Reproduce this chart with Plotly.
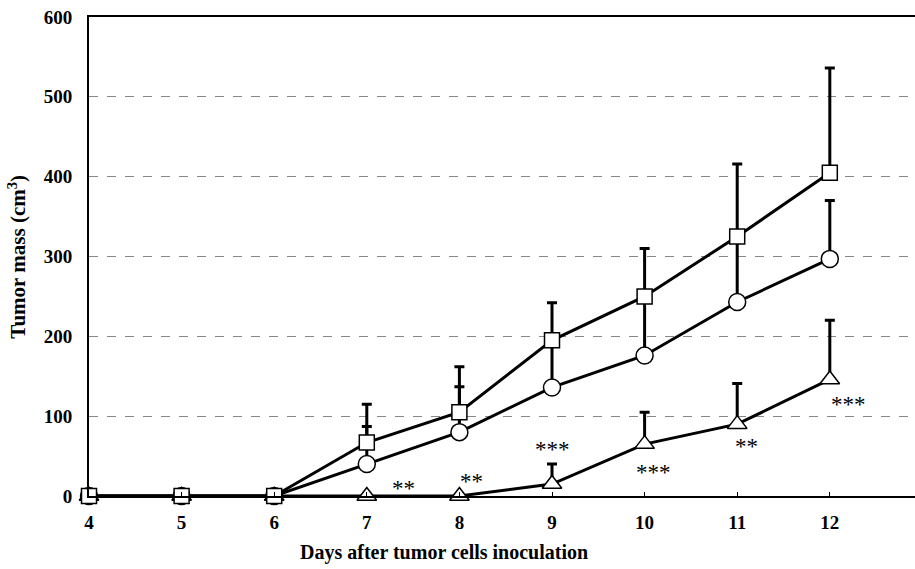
import plotly.graph_objects as go

days = [4, 5, 6, 7, 8, 9, 10, 11, 12]
square_vals = [0, 0, 0, 67, 105, 195, 250, 325, 405]
square_err = [0, 0, 0, 48, 57, 47, 60, 91, 131]
circle_vals = [0, 0, 0, 40, 80, 136, 176, 243, 297]
circle_err = [0, 0, 0, 47, 57, 55, 68, 78, 73]
triangle_vals = [0, 0, 0, 0, 0, 15, 65, 90, 146]
triangle_err = [0, 0, 0, 0, 0, 25, 40, 51, 74]

star_x = [7.4, 8.13, 9.0, 10.1, 11.1, 12.2]
star_y = [10, 18, 58, 30, 62, 114]
star_text = ["**", "**", "***", "***", "**", "***"]

y_ticks = [0, 100, 200, 300, 400, 500, 600]

FONT = "Liberation Serif"

fig = go.Figure()

def add_series(vals, errs, symbol, size):
    fig.add_trace(go.Scatter(
        x=days, y=vals, mode="lines+markers",
        line=dict(color="black", width=3),
        marker=dict(symbol=symbol, size=size, color="white",
                    line=dict(color="black", width=1.5)),
        error_y=dict(type="data", array=errs, arrayminus=[0] * len(errs),
                     symmetric=False, color="black", thickness=3, width=5),
        cliponaxis=False, showlegend=False,
    ))

add_series(triangle_vals, triangle_err, "triangle-up", 17)
add_series(circle_vals, circle_err, "circle", 17)
add_series(square_vals, square_err, "square", 15)

for sx, sy, st in zip(star_x, star_y, star_text):
    fig.add_annotation(x=sx, y=sy, text=st, showarrow=False,
                       font=dict(family=FONT, size=23, color="black"))

fig.add_annotation(x=0.43, y=-0.118, xref="paper", yref="paper",
                   text="<b>Days after tumor cells inoculation</b>", showarrow=False,
                   xanchor="center", yanchor="middle",
                   font=dict(family=FONT, size=20, color="black"))
fig.add_annotation(x=-0.087, y=0.5, xref="paper", yref="paper",
                   text="<b>Tumor mass (cm<sup>3</sup>)</b>", showarrow=False,
                   textangle=-90, xanchor="center", yanchor="middle",
                   font=dict(family=FONT, size=21, color="black"))

fig.update_layout(
    width=915, height=569,
    margin=dict(l=89, r=0, t=17, b=73),
    plot_bgcolor="white", paper_bgcolor="white",
    font=dict(family=FONT, size=16, color="black"),
)
fig.update_xaxes(
    range=[4, 12.92], tickvals=days, ticktext=[f"<b>{d}</b>" for d in days],
    showgrid=False, zeroline=False, showline=True, linecolor="black", linewidth=2,
    mirror=True, ticks="inside", ticklen=4, tickcolor="black",
    ticklabelstandoff=8,
    tickfont=dict(family=FONT, size=19, color="black"),
)
fig.update_yaxes(
    range=[0, 600], tickvals=y_ticks, ticktext=[f"<b>{v}</b>" for v in y_ticks],
    showgrid=True, gridcolor="#888888", griddash="dash", gridwidth=1,
    zeroline=False, showline=True, linecolor="black", linewidth=2,
    ticks="", ticklabelstandoff=11,
    tickfont=dict(family=FONT, size=19, color="black"),
)

fig.write_html("out.html")
